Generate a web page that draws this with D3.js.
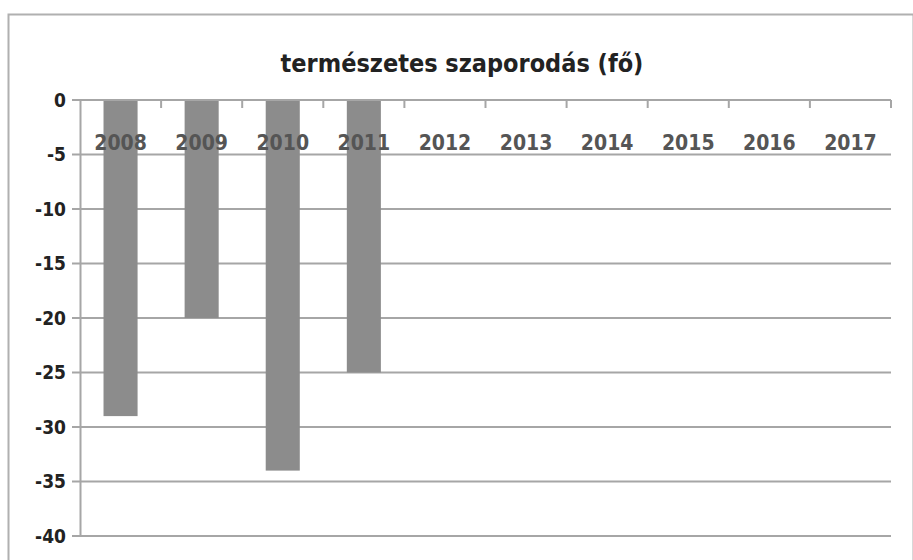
<!DOCTYPE html>
<html>
<head>
<meta charset="utf-8">
<script src="https://cdn.jsdelivr.net/npm/d3@7"></script>
<style>
    body { margin: 0; background: #fff; }
    text { font-family: "DejaVu Sans", sans-serif; font-stretch: condensed; font-weight: bold; }
    .chart-title { font-size: 25px; fill: #222; }
    .y-axis text { font-size: 19px; fill: #222; }
    .x-axis text { font-size: 21px; fill: #555; }
</style>
</head>
<body>
<script>
// Chart size and plot margins
const width = 913;
const height = 560;
const margin = { top: 100, right: 22, bottom: 24, left: 80 };

// Data
const years = ["2008", "2009", "2010", "2011", "2012", "2013", "2014", "2015", "2016", "2017"];
const values = [-29, -20, -34, -25, null, null, null, null, null, null];
const yTicks = [0, -5, -10, -15, -20, -25, -30, -35, -40];
const title = "természetes szaporodás (fő)";

const data = years.map((y, i) => ({ year: y, value: values[i] }));

const svg = d3.select("body")
    .append("svg")
    .attr("width", width)
    .attr("height", height);

// Outer chart frame
svg.append("rect")
    .attr("x", 8.5)
    .attr("y", 14.5)
    .attr("width", width - 8)
    .attr("height", height)
    .attr("fill", "#fff")
    .attr("stroke", "#b0b0b0")
    .attr("stroke-width", 2);

// Scales
const xScale = d3.scaleBand()
    .domain(years)
    .range([margin.left, width - margin.right])
    .paddingInner(0.58)
    .paddingOuter(0.29);

const yScale = d3.scaleLinear()
    .domain([-40, 0])
    .range([height - margin.bottom, margin.top]);

// Horizontal gridlines
svg.append("g")
    .selectAll("line")
    .data(yTicks)
    .join("line")
    .attr("x1", margin.left - 8)
    .attr("x2", width - margin.right)
    .attr("y1", d => yScale(d))
    .attr("y2", d => yScale(d))
    .attr("stroke", "#a6a6a6")
    .attr("stroke-width", 2);

// Y axis (plain hyphen for negatives, as in the original)
const leftAxis = d3.axisLeft(yScale)
    .tickValues(yTicks)
    .tickFormat(d => String(d))
    .tickSize(0)
    .tickPadding(14);

const yAxis = svg.append("g")
    .attr("class", "y-axis")
    .attr("transform", `translate(${margin.left}, 0)`)
    .call(leftAxis);
yAxis.select(".domain").attr("stroke", "#a6a6a6").attr("stroke-width", 2);

// Bars
svg.append("g")
    .selectAll("rect")
    .data(data.filter(d => d.value !== null))
    .join("rect")
    .attr("x", d => xScale(d.year))
    .attr("y", yScale(0))
    .attr("width", xScale.bandwidth())
    .attr("height", d => yScale(d.value) - yScale(0))
    .attr("fill", "#8c8c8c");

// X axis at zero, with ticks between categories
const step = xScale.step();
const xAxis = svg.append("g")
    .attr("class", "x-axis")
    .attr("transform", `translate(0, ${yScale(0)})`);

xAxis.append("line")
    .attr("x1", margin.left)
    .attr("x2", width - margin.right)
    .attr("stroke", "#a6a6a6")
    .attr("stroke-width", 2);

xAxis.selectAll(".cat-tick")
    .data(years)
    .join("line")
    .attr("class", "cat-tick")
    .attr("x1", d => xScale(d) - xScale.paddingOuter() * step + step)
    .attr("x2", d => xScale(d) - xScale.paddingOuter() * step + step)
    .attr("y1", 0)
    .attr("y2", 8)
    .attr("stroke", "#a6a6a6")
    .attr("stroke-width", 2);

xAxis.selectAll(".cat-label")
    .data(years)
    .join("text")
    .attr("class", "cat-label")
    .attr("x", d => xScale(d) + xScale.bandwidth() / 2)
    .attr("y", 50)
    .attr("text-anchor", "middle")
    .text(d => d);

// Title
svg.append("text")
    .attr("class", "chart-title")
    .attr("x", 462)
    .attr("y", 72)
    .attr("text-anchor", "middle")
    .text(title);
</script>
</body>
</html>
